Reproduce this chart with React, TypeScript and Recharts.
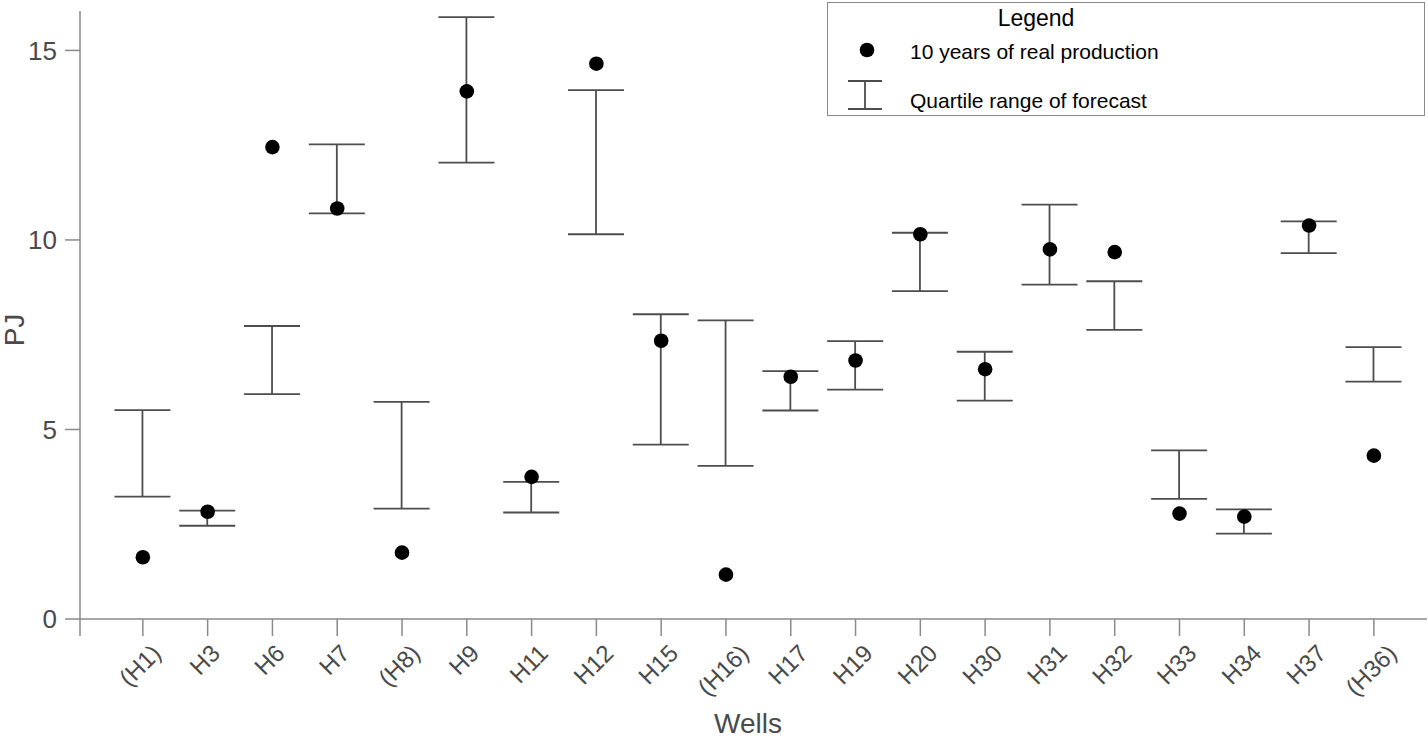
import React from 'react';
import { ComposedChart, XAxis, YAxis, Bar, Scatter, Legend, Label } from 'recharts';

const wells = ['(H1)', 'H3', 'H6', 'H7', '(H8)', 'H9', 'H11', 'H12', 'H15', '(H16)', 'H17', 'H19', 'H20', 'H30', 'H31', 'H32', 'H33', 'H34', 'H37', '(H36)'];
const realProduction = [1.63, 2.83, 12.45, 10.83, 1.75, 13.92, 3.75, 14.65, 7.34, 1.17, 6.39, 6.82, 10.15, 6.59, 9.75, 9.68, 2.78, 2.7, 10.38, 4.31];
const forecastQ1 = [3.23, 2.46, 5.93, 10.7, 2.91, 12.04, 2.81, 10.15, 4.6, 4.04, 5.5, 6.05, 8.65, 5.76, 8.82, 7.63, 3.17, 2.25, 9.65, 6.26];
const forecastQ3 = [5.51, 2.86, 7.73, 12.52, 5.73, 15.88, 3.62, 13.95, 8.04, 7.88, 6.54, 7.33, 10.19, 7.05, 10.93, 8.91, 4.45, 2.89, 10.49, 7.17];
const yTicks = [0, 5, 10, 15];
const legendTitle = 'Legend';
const legendLabels = ['10 years of real production', 'Quartile range of forecast'];

const X_MIN = -0.97;
const X_MAX = 19.82;
const xTicks = [X_MIN, ...wells.map((_, i) => i)];

const data = wells.map((w, i) => ({
  idx: i,
  well: w,
  real: realProduction[i],
  range: [forecastQ1[i], forecastQ3[i]],
}));

const FONT = '"Liberation Sans", Arial, sans-serif';
const AXIS_COLOR = '#8a8a8a';
const TEXT_COLOR = '#4a4a4a';
const BAR_COLOR = '#4d4d4d';

let measureCtx: CanvasRenderingContext2D | null = null;
function textWidth(t: string, size: number) {
  if (!measureCtx) {
    const c = document.createElement('canvas');
    measureCtx = c.getContext('2d');
  }
  if (!measureCtx) return t.length * size * 0.55;
  measureCtx.font = `${size}px ${FONT}`;
  return measureCtx.measureText(t).width;
}

const XTick = (props: any) => {
  const { x, y, payload } = props;
  const v = payload.value;
  if (!Number.isInteger(v) || v < 0) return null;
  const label = wells[v];
  const fs = 24;
  const w = textWidth(label, fs);
  const top = y + 6;
  const cy = top + (w + 0.8 * fs) * 0.3536;
  const cx = x - 3;
  return (
    <text
      x={cx}
      y={cy}
      textAnchor="middle"
      dominantBaseline="central"
      fontSize={fs}
      fill={TEXT_COLOR}
      fontFamily={FONT}
      transform={`rotate(-45, ${cx}, ${cy})`}
    >
      {label}
    </text>
  );
};

const IBeam = (props: any) => {
  const { x, y, width, height } = props;
  if (x == null || y == null) return null;
  const top = Math.min(y, y + height);
  const bottom = Math.max(y, y + height);
  const cx = x + width / 2;
  return (
    <g stroke={BAR_COLOR} strokeWidth={1.8} fill="none">
      <line x1={cx} x2={cx} y1={top} y2={bottom} />
      <line x1={x} x2={x + width} y1={top} y2={top} />
      <line x1={x} x2={x + width} y1={bottom} y2={bottom} />
    </g>
  );
};

const Dot = (props: any) => {
  const { cx, cy } = props;
  if (cx == null || cy == null) return null;
  return <circle cx={cx} cy={cy} r={7.3} fill="#000" />;
};

const renderLegend = () => (
  <div
    style={{
      width: 598,
      height: 114,
      boxSizing: 'border-box',
      border: `1.5px solid ${AXIS_COLOR}`,
      background: '#fff',
      position: 'relative',
    }}
  >
    <svg width={596} height={112} style={{ position: 'absolute', left: 0, top: 0 }}>
      <text x={208} y={15} textAnchor="middle" dominantBaseline="central" fontSize={23} fontFamily={FONT} fill="#000">
        {legendTitle}
      </text>
      <circle cx={39} cy={47} r={7.3} fill="#000" />
      <text x={82} y={48} dominantBaseline="central" fontSize={21} fontFamily={FONT} fill="#000">
        {legendLabels[0]}
      </text>
      <g stroke={BAR_COLOR} strokeWidth={1.8}>
        <line x1={37} x2={37} y1={78} y2={106} />
        <line x1={20} x2={54} y1={78} y2={78} />
        <line x1={20} x2={54} y1={106} y2={106} />
      </g>
      <text x={82} y={97} dominantBaseline="central" fontSize={21} fontFamily={FONT} fill="#000">
        {legendLabels[1]}
      </text>
    </svg>
  </div>
);

export default function App() {
  return (
    <div style={{ position: 'absolute', left: 0, top: 0, width: 1428, height: 740, background: '#fff' }}>
      <ComposedChart
        width={1428}
        height={740}
        data={data}
        margin={{ top: 11, right: 1, left: 0, bottom: 0 }}
        style={{ fontFamily: FONT }}
      >
        <XAxis
          dataKey="idx"
          type="number"
          domain={[X_MIN, X_MAX]}
          ticks={xTicks}
          interval={0}
          allowDataOverflow
          height={121}
          tickSize={17}
          tickMargin={0}
          axisLine={{ stroke: AXIS_COLOR, strokeWidth: 1.5 }}
          tickLine={{ stroke: AXIS_COLOR, strokeWidth: 1.5 }}
          tick={<XTick />}
        >
          <Label
            content={() => (
              <text x={748} y={723} textAnchor="middle" dominantBaseline="central" fontSize={28} fill={TEXT_COLOR} fontFamily={FONT}>
                Wells
              </text>
            )}
          />
        </XAxis>
        <YAxis
          type="number"
          domain={[0, 16.04]}
          ticks={yTicks}
          allowDataOverflow
          width={80}
          tickSize={15}
          tickMargin={8}
          axisLine={{ stroke: AXIS_COLOR, strokeWidth: 1.5 }}
          tickLine={{ stroke: AXIS_COLOR, strokeWidth: 1.5 }}
          tick={{ fontSize: 26, fill: TEXT_COLOR, fontFamily: FONT }}
        >
          <Label
            content={() => (
              <text
                x={14}
                y={330}
                textAnchor="middle"
                dominantBaseline="central"
                fontSize={28}
                fill={TEXT_COLOR}
                fontFamily={FONT}
                transform="rotate(-90, 14, 330)"
              >
                PJ
              </text>
            )}
          />
        </YAxis>
        <Bar dataKey="range" barSize={56} shape={<IBeam />} isAnimationActive={false} />
        <Scatter dataKey="real" shape={<Dot />} isAnimationActive={false} />
        <Legend
          layout="horizontal"
          align="center"
          verticalAlign="middle"
          content={renderLegend}
          wrapperStyle={{ left: 827, top: 2, width: 598, height: 114 }}
        />
      </ComposedChart>
    </div>
  );
}
